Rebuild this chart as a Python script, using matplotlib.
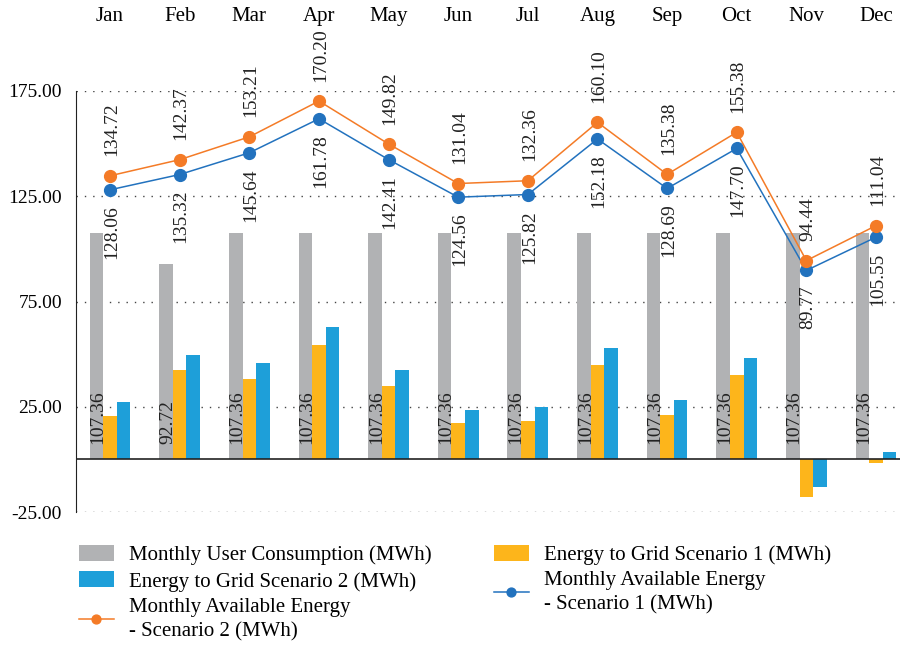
import numpy as np
import matplotlib.pyplot as plt

plt.rcParams['font.family'] = ['Liberation Serif', 'DejaVu Serif']

months = ["Jan", "Feb", "Mar", "Apr", "May", "Jun", "Jul", "Aug", "Sep", "Oct", "Nov", "Dec"]
consumption = [107.36, 92.72, 107.36, 107.36, 107.36, 107.36, 107.36, 107.36, 107.36, 107.36, 107.36, 107.36]
avail_s1 = [128.06, 135.32, 145.64, 161.78, 142.41, 124.56, 125.82, 152.18, 128.69, 147.70, 89.77, 105.55]
avail_s2 = [134.72, 142.37, 153.21, 170.20, 149.82, 131.04, 132.36, 160.10, 135.38, 155.38, 94.44, 111.04]
grid_s1 = [20.70, 42.60, 38.28, 54.42, 35.05, 17.20, 18.46, 44.82, 21.33, 40.34, -17.59, -1.81]
grid_s2 = [27.36, 49.65, 45.85, 62.84, 42.46, 23.68, 25.00, 52.74, 28.02, 48.02, -12.92, 3.68]

c_grey = "#b1b2b4"
c_gold = "#fdb51b"
c_blue = "#1e9fd9"
c_oline = "#f47b27"
c_bline = "#2272be"

fig = plt.figure(figsize=(9, 6.45), dpi=100)
ax = fig.add_axes([0.0844, 0.206, 0.916, 0.653])

x = np.arange(len(months))
w = 0.195
b1 = ax.bar(x - w, consumption, w, color=c_grey, zorder=2, label="Monthly User Consumption (MWh)")
b2 = ax.bar(x, grid_s1, w, color=c_gold, zorder=2, label="Energy to Grid Scenario 1 (MWh)")
b3 = ax.bar(x + w, grid_s2, w, color=c_blue, zorder=2, label="Energy to Grid Scenario 2 (MWh)")
l1, = ax.plot(x, avail_s1, color=c_bline, lw=1.1, marker="o", ms=8.5, zorder=4, clip_on=False,
              label="Monthly Available Energy\n- Scenario 1 (MWh)")
l2, = ax.plot(x, avail_s2, color=c_oline, lw=1.1, marker="o", ms=8.5, zorder=4, clip_on=False,
              label="Monthly Available Energy\n- Scenario 2 (MWh)")

fs = 14
for i in range(len(months)):
    ax.annotate(f"{consumption[i]:.2f}", (x[i] - w, 0), xytext=(1, 11), textcoords="offset points",
                rotation=90, ha="center", va="bottom", fontsize=fs, color="#222222", zorder=3)
    ax.annotate(f"{avail_s2[i]:.2f}", (x[i], avail_s2[i]), xytext=(1, 14), textcoords="offset points",
                rotation=90, ha="center", va="bottom", fontsize=fs, color="#222222", zorder=5,
                annotation_clip=False)
    ax.annotate(f"{avail_s1[i]:.2f}", (x[i], avail_s1[i]), xytext=(1, -11), textcoords="offset points",
                rotation=90, ha="center", va="top", fontsize=fs, color="#222222", zorder=5,
                annotation_clip=False)

ax.axhline(0, color="#222222", lw=1.2, zorder=3)
ax.set_ylim(-25, 175)
ax.set_xlim(-0.49, 11.35)
ax.set_yticks([-25, 25, 75, 125, 175])
ax.set_yticklabels([f"{v:.2f}" for v in [-25, 25, 75, 125, 175]], fontsize=fs)
ax.yaxis.grid(True, linestyle=(0, (1, 5)), color="#444444", lw=1.0)
ax.tick_params(axis="y", length=0, pad=10)

ax.xaxis.tick_top()
ax.set_xticks(x)
ax.set_xticklabels(months, fontsize=15)
ax.tick_params(axis="x", length=0, pad=47)

for s in ["top", "right", "bottom"]:
    ax.spines[s].set_visible(False)
ax.spines["left"].set_color("#222222")

handles = [b1, b3, l2, b2, l1]
leg = fig.legend(handles, [h.get_label() for h in handles], loc="upper left", bbox_to_anchor=(0.078, 0.168),
                 ncol=2, frameon=False, fontsize=15, handlelength=1.7, handleheight=0.8,
                 columnspacing=3.0, labelspacing=0.3, handletextpad=0.7, borderaxespad=0,
                 markerscale=0.75)
for t in leg.get_texts():
    t.set_linespacing(1.35)

fig.savefig("out.png", dpi=100)
